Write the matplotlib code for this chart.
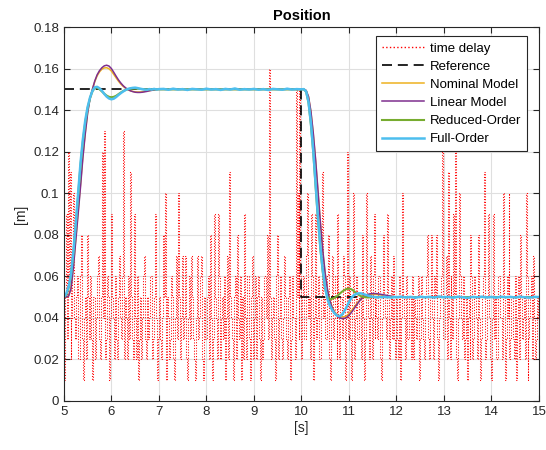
import numpy as np
import matplotlib
matplotlib.use("Agg")
import matplotlib.pyplot as plt
from matplotlib.ticker import FuncFormatter

plt.rcParams['font.family'] = ['Liberation Sans', 'DejaVu Sans']

# ---- measured time delay (held between samples) ----
delay_t0 = 5.0
delay_dt = 0.02
delay = [
    # 5.0 - 6.0
    0.01, 0.05, 0.09, 0.03, 0.12, 0.06, 0.11, 0.02, 0.04, 0.07, 0.10, 0.04, 0.03,
    0.05, 0.06, 0.02, 0.02, 0.06, 0.08, 0.03, 0.01, 0.04, 0.05, 0.02, 0.08,
    0.05, 0.03, 0.06, 0.06, 0.03, 0.01, 0.05, 0.05, 0.02, 0.04, 0.06, 0.07,
    0.03, 0.02, 0.05, 0.12, 0.04, 0.13, 0.02, 0.03, 0.06, 0.05, 0.03, 0.01, 0.04,
    # 6.0 - 7.0
    0.09, 0.05, 0.04, 0.02, 0.06, 0.03, 0.02, 0.05, 0.07, 0.04, 0.03, 0.06, 0.13,
    0.02, 0.05, 0.04, 0.02, 0.06, 0.06, 0.03, 0.11, 0.05, 0.03, 0.02, 0.09,
    0.04, 0.02, 0.06, 0.01, 0.03, 0.05, 0.02, 0.04, 0.06, 0.07, 0.03, 0.02,
    0.05, 0.05, 0.03, 0.04, 0.06, 0.06, 0.02, 0.03, 0.05, 0.09, 0.04, 0.01, 0.03,
    # 7.0 - 8.0
    0.05, 0.03, 0.02, 0.04, 0.08, 0.05, 0.10, 0.03, 0.01, 0.05, 0.04, 0.02, 0.03,
    0.06, 0.05, 0.02, 0.01, 0.04, 0.07, 0.03, 0.10, 0.05, 0.02, 0.04, 0.07,
    0.03, 0.04, 0.06, 0.07, 0.02, 0.01, 0.04, 0.06, 0.03, 0.07, 0.05, 0.03,
    0.02, 0.01, 0.04, 0.07, 0.03, 0.04, 0.06, 0.07, 0.02, 0.01, 0.04, 0.05, 0.03,
    # 8.0 - 9.0
    0.03, 0.05, 0.06, 0.02, 0.08, 0.04, 0.01, 0.03, 0.09, 0.05, 0.04, 0.02, 0.09,
    0.06, 0.02, 0.04, 0.05, 0.03, 0.03, 0.06, 0.01, 0.04, 0.07, 0.02, 0.11,
    0.05, 0.04, 0.03, 0.01, 0.05, 0.06, 0.02, 0.08, 0.04, 0.03, 0.06, 0.01,
    0.03, 0.05, 0.02, 0.09, 0.04, 0.02, 0.06, 0.06, 0.03, 0.01, 0.05, 0.07, 0.02,
    # 9.0 - 10.0
    0.04, 0.06, 0.02, 0.05, 0.06, 0.03, 0.01, 0.04, 0.05, 0.02, 0.03, 0.06, 0.06,
    0.04, 0.08, 0.03, 0.16, 0.05, 0.02, 0.04, 0.05, 0.03, 0.01, 0.06, 0.08,
    0.02, 0.04, 0.05, 0.06, 0.03, 0.02, 0.04, 0.07, 0.05, 0.03, 0.02, 0.05,
    0.06, 0.01, 0.03, 0.06, 0.04, 0.04, 0.02, 0.15, 0.05, 0.10, 0.03, 0.15, 0.06,
    # 10.0 - 11.0
    0.02, 0.05, 0.06, 0.03, 0.03, 0.07, 0.10, 0.04, 0.05, 0.02, 0.09, 0.06, 0.01,
    0.04, 0.09, 0.03, 0.04, 0.06, 0.06, 0.02, 0.02, 0.05, 0.11, 0.04, 0.05,
    0.03, 0.03, 0.06, 0.08, 0.02, 0.01, 0.05, 0.07, 0.03, 0.04, 0.06, 0.06,
    0.02, 0.09, 0.04, 0.02, 0.05, 0.05, 0.03, 0.07, 0.06, 0.01, 0.04, 0.12, 0.03,
    # 11.0 - 12.0
    0.06, 0.03, 0.01, 0.05, 0.10, 0.02, 0.04, 0.06, 0.06, 0.03, 0.03, 0.05, 0.05,
    0.02, 0.08, 0.04, 0.01, 0.03, 0.10, 0.05, 0.04, 0.02, 0.07, 0.04, 0.02,
    0.06, 0.09, 0.03, 0.05, 0.04, 0.03, 0.06, 0.06, 0.02, 0.01, 0.04, 0.08,
    0.05, 0.04, 0.03, 0.09, 0.05, 0.02, 0.04, 0.06, 0.03, 0.07, 0.05, 0.03, 0.02,
    # 12.0 - 13.0
    0.05, 0.03, 0.02, 0.06, 0.01, 0.04, 0.10, 0.05, 0.04, 0.02, 0.06, 0.03, 0.03,
    0.05, 0.05, 0.02, 0.06, 0.04, 0.02, 0.05, 0.04, 0.03, 0.05, 0.06, 0.01,
    0.03, 0.06, 0.04, 0.03, 0.02, 0.05, 0.06, 0.08, 0.03, 0.02, 0.05, 0.08,
    0.04, 0.04, 0.02, 0.06, 0.05, 0.08, 0.03, 0.01, 0.04, 0.05, 0.06, 0.13, 0.03,
    # 13.0 - 14.0
    0.03, 0.05, 0.07, 0.02, 0.11, 0.04, 0.02, 0.06, 0.05, 0.03, 0.09, 0.05, 0.12,
    0.02, 0.01, 0.04, 0.10, 0.06, 0.04, 0.03, 0.06, 0.02, 0.03, 0.05, 0.01,
    0.04, 0.05, 0.02, 0.08, 0.06, 0.02, 0.03, 0.06, 0.05, 0.04, 0.02, 0.08,
    0.04, 0.01, 0.03, 0.05, 0.06, 0.11, 0.02, 0.03, 0.05, 0.09, 0.04, 0.04, 0.02,
    # 14.0 - 15.0
    0.01, 0.04, 0.09, 0.03, 0.05, 0.02, 0.02, 0.06, 0.06, 0.04, 0.04, 0.02, 0.10,
    0.05, 0.01, 0.03, 0.06, 0.04, 0.10, 0.02, 0.03, 0.05, 0.05, 0.03, 0.02,
    0.06, 0.01, 0.04, 0.06, 0.02, 0.08, 0.05, 0.03, 0.04, 0.05, 0.02, 0.10,
    0.06, 0.01, 0.03, 0.04, 0.05, 0.06, 0.02, 0.07, 0.04, 0.02, 0.03, 0.05, 0.04,
    0.05,
]

# ---- reference trajectory ----
ref_t = [5.0, 10.0, 10.0, 15.0]
ref_pos = [0.15, 0.15, 0.05, 0.05]

# ---- model responses: rise (5-7 s) and fall (10-12 s) on 0.05 s grid ----
rise_t = [5.00, 5.05, 5.10, 5.15, 5.20, 5.25, 5.30, 5.35, 5.40, 5.45, 5.50,
          5.55, 5.60, 5.65, 5.70, 5.75, 5.80, 5.85, 5.90, 5.95, 6.00, 6.05,
          6.10, 6.15, 6.20, 6.25, 6.30, 6.35, 6.40, 6.45, 6.50, 6.55, 6.60,
          6.65, 6.70, 6.75, 6.80, 6.85, 6.90, 6.95, 7.00]
fall_t = [10.00, 10.05, 10.10, 10.15, 10.20, 10.25, 10.30, 10.35, 10.40,
          10.45, 10.50, 10.55, 10.60, 10.65, 10.70, 10.75, 10.80, 10.85,
          10.90, 10.95, 11.00, 11.05, 11.10, 11.15, 11.20, 11.25, 11.30,
          11.35, 11.40, 11.45, 11.50, 11.55, 11.60, 11.65, 11.70, 11.75,
          11.80, 11.85, 11.90, 11.95, 12.00]

nominal_rise = [0.0500, 0.0500, 0.0507, 0.0545, 0.0648, 0.0780, 0.0912, 0.1042,
                0.1180, 0.1293, 0.1390, 0.1458, 0.1500, 0.1537, 0.1565, 0.1584,
                0.1597, 0.1603, 0.1604, 0.1599, 0.1588, 0.1572, 0.1555, 0.1539,
                0.1525, 0.1514, 0.1505, 0.1498, 0.1493, 0.1490, 0.1488, 0.1487,
                0.1487, 0.1488, 0.1490, 0.1492, 0.1494, 0.1496, 0.1498, 0.1499,
                0.1500]
nominal_fall = [0.1500, 0.1500, 0.1494, 0.1463, 0.1392, 0.1285, 0.1153, 0.1003,
                0.0853, 0.0720, 0.0612, 0.0534, 0.0483, 0.0451, 0.0429, 0.0415,
                0.0407, 0.0404, 0.0405, 0.0410, 0.0420, 0.0433, 0.0448, 0.0464,
                0.0478, 0.0491, 0.0500, 0.0507, 0.0511, 0.0513, 0.0514, 0.0513,
                0.0512, 0.0511, 0.0509, 0.0507, 0.0506, 0.0504, 0.0503, 0.0501,
                0.0500]

linear_rise = [0.0500, 0.0500, 0.0505, 0.0540, 0.0640, 0.0770, 0.0900, 0.1030,
               0.1170, 0.1285, 0.1385, 0.1455, 0.1500, 0.1540, 0.1570, 0.1590,
               0.1604, 0.1613, 0.1616, 0.1612, 0.1600, 0.1582, 0.1563, 0.1545,
               0.1530, 0.1517, 0.1507, 0.1499, 0.1493, 0.1489, 0.1486, 0.1485,
               0.1485, 0.1486, 0.1488, 0.1490, 0.1493, 0.1495, 0.1497, 0.1499,
               0.1500]
linear_fall = [0.1500, 0.1500, 0.1495, 0.1465, 0.1395, 0.1290, 0.1160, 0.1010,
               0.0860, 0.0725, 0.0615, 0.0535, 0.0482, 0.0448, 0.0425, 0.0410,
               0.0401, 0.0397, 0.0397, 0.0402, 0.0412, 0.0425, 0.0441, 0.0458,
               0.0474, 0.0489, 0.0500, 0.0508, 0.0513, 0.0516, 0.0517, 0.0517,
               0.0516, 0.0514, 0.0512, 0.0510, 0.0508, 0.0506, 0.0504, 0.0502,
               0.0501]

reduced_rise = [0.0500, 0.0512, 0.0545, 0.0605, 0.0712, 0.0845, 0.0990, 0.1135,
                0.1250, 0.1342, 0.1410, 0.1457, 0.1490, 0.1507, 0.1508, 0.1500,
                0.1490, 0.1479, 0.1470, 0.1464, 0.1462, 0.1464, 0.1469, 0.1477,
                0.1485, 0.1492, 0.1497, 0.1501, 0.1503, 0.1504, 0.1504, 0.1503,
                0.1502, 0.1501, 0.1500, 0.1500, 0.1500, 0.1500, 0.1500, 0.1500,
                0.1500]
reduced_fall = [0.1500, 0.1500, 0.1488, 0.1435, 0.1330, 0.1195, 0.1030, 0.0870,
                0.0730, 0.0620, 0.0540, 0.0500, 0.0490, 0.0492, 0.0497, 0.0505,
                0.0515, 0.0525, 0.0533, 0.0539, 0.0541, 0.0538, 0.0530, 0.0520,
                0.0511, 0.0505, 0.0501, 0.0499, 0.0498, 0.0499, 0.0500, 0.0500,
                0.0500, 0.0500, 0.0500, 0.0500, 0.0500, 0.0500, 0.0500, 0.0500,
                0.0500]

full_rise = [0.0500, 0.0515, 0.0550, 0.0610, 0.0720, 0.0855, 0.1000, 0.1145,
             0.1260, 0.1350, 0.1415, 0.1460, 0.1492, 0.1510, 0.1512, 0.1505,
             0.1493, 0.1478, 0.1465, 0.1456, 0.1452, 0.1455, 0.1463, 0.1473,
             0.1482, 0.1490, 0.1497, 0.1502, 0.1505, 0.1507, 0.1508, 0.1506,
             0.1503, 0.1501, 0.1499, 0.1498, 0.1501, 0.1499, 0.1502, 0.1499,
             0.1501]
full_fall = [0.1500, 0.1501, 0.1490, 0.1440, 0.1340, 0.1205, 0.1040, 0.0880,
             0.0740, 0.0630, 0.0545, 0.0490, 0.0458, 0.0437, 0.0421, 0.0411,
             0.0408, 0.0414, 0.0430, 0.0451, 0.0475, 0.0495, 0.0508, 0.0515,
             0.0518, 0.0518, 0.0515, 0.0511, 0.0507, 0.0504, 0.0502, 0.0500,
             0.0498, 0.0501, 0.0499, 0.0502, 0.0499, 0.0500, 0.0497, 0.0501,
             0.0499]

# Full-order steady-state samples (noisy hold segments)
hold_hi_t = [7.1, 7.2, 7.3, 7.4, 7.5, 7.6, 7.7, 7.8, 7.9, 8.0, 8.1, 8.2, 8.3,
             8.4, 8.5, 8.6, 8.7, 8.8, 8.9, 9.0, 9.1, 9.2, 9.3, 9.4, 9.5, 9.6,
             9.7, 9.8, 9.9]
full_hold_hi = [0.1502, 0.1498, 0.1503, 0.1499, 0.1501, 0.1497, 0.1502, 0.1500,
                0.1498, 0.1503, 0.1499, 0.1501, 0.1497, 0.1502, 0.1499, 0.1504,
                0.1498, 0.1501, 0.1499, 0.1502, 0.1498, 0.1501, 0.1497, 0.1502,
                0.1500, 0.1498, 0.1503, 0.1499, 0.1501]
hold_lo_t = [12.1, 12.2, 12.3, 12.4, 12.5, 12.6, 12.7, 12.8, 12.9, 13.0, 13.1,
             13.2, 13.3, 13.4, 13.5, 13.6, 13.7, 13.8, 13.9, 14.0, 14.1, 14.2,
             14.3, 14.4, 14.5, 14.6, 14.7, 14.8, 14.9]
full_hold_lo = [0.0502, 0.0498, 0.0501, 0.0497, 0.0502, 0.0499, 0.0501, 0.0498,
                0.0503, 0.0499, 0.0501, 0.0497, 0.0502, 0.0499, 0.0496, 0.0501,
                0.0499, 0.0502, 0.0498, 0.0501, 0.0497, 0.0502, 0.0499, 0.0501,
                0.0498, 0.0502, 0.0499, 0.0497, 0.0501]

labels = ['time delay', 'Reference', 'Nominal Model', 'Linear Model',
          'Reduced-Order', 'Full-Order']
colors = ['#FF0000', '#000000', '#EDB120', '#7E2F8E', '#77AC30', '#4DBEEE']

# ---- figure ----
fig = plt.figure(figsize=(5.46, 4.50), dpi=100)
ax = fig.add_axes([0.117, 0.109, 0.870, 0.831])

axis_col = '#262626'

d_t = delay_t0 + delay_dt * np.arange(len(delay))
ax.plot(d_t, delay, linestyle=':', color=colors[0], lw=0.75,
        drawstyle='steps-post', label=labels[0])

ax.plot(ref_t, ref_pos, color=colors[1], lw=1.2, dashes=(6, 3.5),
        label=labels[1])


def track(rise, fall, hold_hi=None, hold_lo=None):
    if hold_hi is None:
        t = list(rise_t) + list(fall_t) + [15.0]
        y = list(rise) + list(fall) + [0.05]
    else:
        t = list(rise_t) + hold_hi_t + list(fall_t) + hold_lo_t + [15.0]
        y = list(rise) + hold_hi + list(fall) + hold_lo + [0.05]
    return t, y


t, y = track(nominal_rise, nominal_fall)
ax.plot(t, y, color=colors[2], lw=1.1, label=labels[2])
t, y = track(linear_rise, linear_fall)
ax.plot(t, y, color=colors[3], lw=1.1, label=labels[3])
t, y = track(reduced_rise, reduced_fall)
ax.plot(t, y, color=colors[4], lw=1.5, label=labels[4])
t, y = track(full_rise, full_fall, full_hold_hi, full_hold_lo)
ax.plot(t, y, color=colors[5], lw=1.8, label=labels[5])

ax.set_xlim(5, 15)
ax.set_ylim(0, 0.18)
ax.set_xticks(np.arange(5, 15.01, 1))
ax.set_yticks(np.arange(0, 0.1801, 0.02))
ax.yaxis.set_major_formatter(FuncFormatter(lambda v, p: '%g' % round(v, 2)))

ax.grid(True, color='#DFDFDF', lw=0.8)
ax.set_axisbelow(True)
for s in ax.spines.values():
    s.set_color(axis_col)
    s.set_linewidth(0.8)
ax.tick_params(direction='in', top=True, right=True, length=4,
               color=axis_col, labelcolor=axis_col, labelsize=9.5, width=0.8)

ax.set_title('Position', fontsize=10.5, fontweight='bold', color='black', pad=5)
ax.set_xlabel('[s]', fontsize=10, color=axis_col, labelpad=2)
ax.set_ylabel('[m]', fontsize=10, color=axis_col, labelpad=4)

leg = ax.legend(loc='upper right', bbox_to_anchor=(0.975, 0.975),
                fontsize=9.5, handlelength=3.2, handletextpad=0.4,
                labelspacing=0.45, borderpad=0.45, fancybox=False,
                framealpha=1.0, edgecolor=axis_col, borderaxespad=0.0)
leg.get_frame().set_linewidth(0.8)
for txt in leg.get_texts():
    txt.set_color('black')
# make the dotted delay sample in the key clearly red
delay_handle = leg.get_lines()[0]
delay_handle.set_linewidth(1.0)
delay_handle.set_color(colors[0])
delay_handle.set_drawstyle('default')

fig.savefig('out.png', dpi=100)
